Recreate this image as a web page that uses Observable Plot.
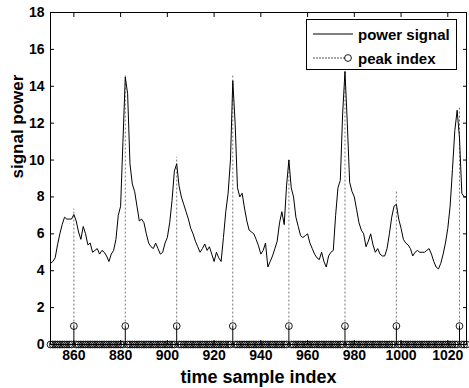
<!DOCTYPE html>
<html>
<head>
<meta charset="utf-8">
<script src="https://cdn.jsdelivr.net/npm/d3@7"></script>
<script src="https://cdn.jsdelivr.net/npm/@observablehq/plot@0.6"></script>
<style>
  html, body { margin: 0; padding: 0; background: #fff; }
  #wrap { position: relative; width: 469px; height: 388px; font-family: "Liberation Sans", Arial, sans-serif; }
  #legend { position: absolute; left: 306px; top: 19px; width: 151px; height: 51px; border: 1px solid #000; background: #fff; box-sizing: border-box; }
  #legend .row { position: absolute; left: 0; height: 20px; display: flex; align-items: center; font-size: 15px; font-weight: bold; color: #000; }
  #legend svg { margin-left: 6px; margin-right: 5px; }
</style>
</head>
<body>
<div id="wrap"></div>
<script>
// ---- data ----
const firstSample = 850;
const powerValues = [
  4.4, 4.5, 4.7, 5.4, 6.0, 6.5, 6.9, 6.8, 6.8, 6.8,
  7.05, 6.7, 6.1, 5.7, 6.4, 6.0, 5.4, 5.5, 5.0, 5.1,
  5.2, 4.9, 5.1, 5.0, 4.8, 4.5, 4.9, 5.1, 5.7, 7.0,
  7.5, 11.0, 14.5, 13.6, 9.8, 8.7, 8.3, 7.5, 6.7, 6.8,
  6.6, 6.0, 5.5, 5.3, 5.2, 5.5, 5.2, 4.9, 5.0, 5.5,
  5.8, 6.6, 7.8, 9.4, 9.8, 8.6, 8.0, 7.6, 7.2, 6.8,
  6.3, 6.0, 5.6, 5.3, 5.0, 5.2, 5.45, 5.1, 5.3, 4.9,
  4.5, 5.0, 4.7, 4.5, 5.8, 7.2, 8.2, 10.0, 14.3, 12.0,
  8.5, 8.0, 8.2, 7.4, 6.7, 6.2, 6.1, 6.0, 5.7, 5.35,
  4.9, 5.1, 5.5, 4.2, 4.5, 4.8, 5.2, 5.6, 6.6, 7.2,
  6.5, 8.6, 10.0, 8.5, 8.0, 6.9, 6.4, 5.9, 5.8, 5.9,
  6.0, 5.5, 5.2, 4.9, 4.7, 4.6, 5.0, 4.5, 4.2, 4.8,
  5.0, 5.1, 7.0, 8.5, 8.9, 12.5, 14.8, 12.0, 8.8, 8.3,
  8.0, 7.3, 6.6, 6.2, 6.0, 5.3, 5.6, 6.0, 5.4, 5.0,
  5.2, 4.9, 4.8, 4.8, 5.2, 6.0, 6.9, 7.5, 7.6, 6.8,
  6.3, 5.7, 5.5, 5.4, 5.2, 4.8, 5.0, 5.1, 5.0, 5.0,
  5.0, 5.1, 5.2, 4.9, 4.5, 4.2, 4.1, 4.4, 4.9, 5.5,
  6.3, 7.5, 9.5, 11.6, 12.7, 11.2, 8.2, 8.0, 8.0
];
const peakIndex = [860, 882, 904, 928, 952, 976, 998, 1025];
const peakHeight = [7.35, 14.6, 10.15, 14.6, 10.1, 14.8, 8.3, 12.9];
const xTicks = [860, 880, 900, 920, 940, 960, 980, 1000, 1020];
const yTicks = [0, 2, 4, 6, 8, 10, 12, 14, 16, 18];
const xLabel = "time sample index";
const yLabel = "signal power";
const legendLabels = ["power signal", "peak index"];

// ---- derived tables ----
const signal = powerValues.map((v, i) => ({t: firstSample + i, v}));
const peakSet = new Set(peakIndex);
const stems = signal.map(d => ({t: d.t, v: peakSet.has(d.t) ? 1 : 0}));
const peaks = peakIndex.map((t, i) => ({t, h: peakHeight[i]}));

const font = "Liberation Sans, Arial, sans-serif";
const chart = Plot.plot({
  width: 469,
  height: 388,
  marginLeft: 50,
  marginRight: 3,
  marginTop: 12,
  marginBottom: 44,
  style: {fontFamily: font, background: "#fff", color: "#000"},
  x: {domain: [850, 1028]},
  y: {domain: [0, 18]},
  marks: [
    Plot.ruleX(peaks, {x: "t", y1: 1, y2: "h", stroke: "#777", strokeDasharray: "2,2", strokeWidth: 1}),
    Plot.line(signal, {x: "t", y: "v", stroke: "#000", strokeWidth: 1}),
    Plot.ruleX(peaks, {x: "t", y1: 0, y2: 1, stroke: "#000", strokeWidth: 1}),
    Plot.dot(stems, {x: "t", y: "v", r: 3.4, stroke: "#000", fill: "none", strokeWidth: 0.9}),
    Plot.frame({stroke: "#000", strokeWidth: 1}),
    Plot.axisX({anchor: "bottom", ticks: xTicks, tickSize: -4, tickPadding: 10, tickFormat: d => String(d), fontSize: 14, fontWeight: "bold", label: null}),
    Plot.axisX({anchor: "top", ticks: xTicks, tickSize: -4, tickFormat: () => "", label: null}),
    Plot.axisY({anchor: "left", ticks: yTicks, tickSize: -4, tickPadding: 10, tickFormat: d => String(d), fontSize: 14, fontWeight: "bold", label: null}),
    Plot.axisY({anchor: "right", ticks: yTicks, tickSize: -4, tickFormat: () => "", label: null}),
    Plot.text([xLabel], {text: d => d, frameAnchor: "bottom", dy: 33, fontSize: 18, fontWeight: "bold", lineAnchor: "middle"}),
    Plot.text([yLabel], {text: d => d, frameAnchor: "left", dx: -33, rotate: -90, fontSize: 17, fontWeight: "bold", lineAnchor: "middle"})
  ]
});
const wrap = document.getElementById("wrap");
wrap.appendChild(chart);

// legend overlay
const legend = document.createElement("div");
legend.id = "legend";
legendLabels.forEach((lab, i) => {
  const row = document.createElement("div");
  row.className = "row";
  row.style.top = (i === 0 ? 4 : 28) + "px";
  const sym = i === 0
    ? '<svg width="40" height="10"><line x1="0" y1="5" x2="40" y2="5" stroke="#000" stroke-width="1"/></svg>'
    : '<svg width="40" height="10"><line x1="0" y1="5" x2="32" y2="5" stroke="#555" stroke-width="1" stroke-dasharray="2,1"/><circle cx="35" cy="5" r="3.4" fill="none" stroke="#000" stroke-width="0.9"/></svg>';
  row.innerHTML = sym + "<span>" + lab + "</span>";
  legend.appendChild(row);
});
wrap.appendChild(legend);
</script>
</body>
</html>
